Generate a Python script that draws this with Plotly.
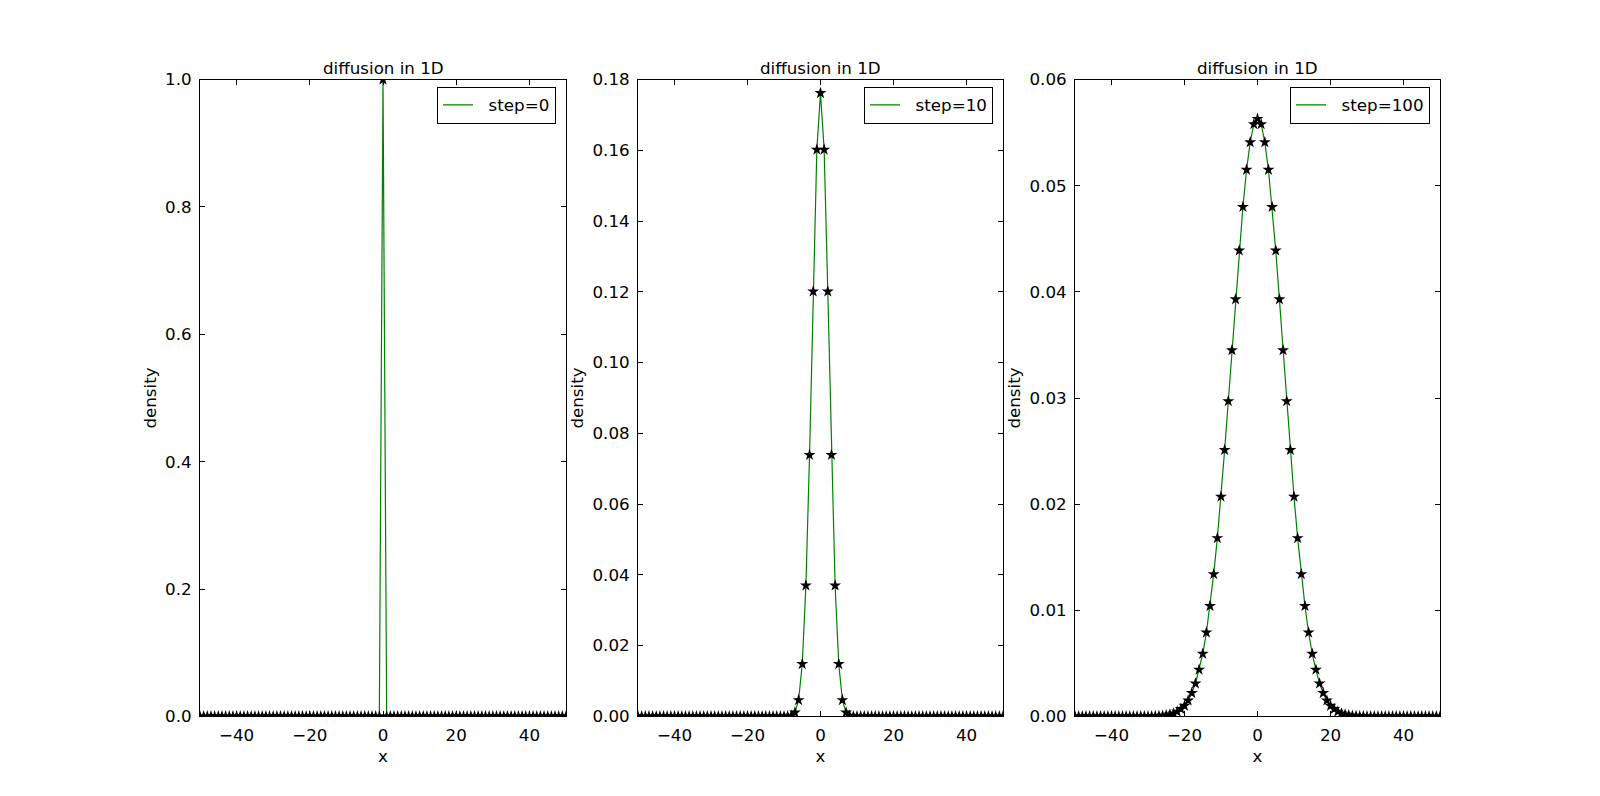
import plotly.graph_objects as go

# ---------------- data ----------------
x_positions = list(range(-50, 51))

density_step0 = [0.0] * 50 + [1.0] + [0.0] * 50

density_step10 = ([0.0] * 40 +
                  [0.000001, 0.00002, 0.0002, 0.0011, 0.0046, 0.0148, 0.0370, 0.0739, 0.1201, 0.1602,
                   0.1762,
                   0.1602, 0.1201, 0.0739, 0.0370, 0.0148, 0.0046, 0.0011, 0.0002, 0.00002, 0.000001] +
                  [0.0] * 40)

density_step100 = ([0.0] * 20 +
                   [0.000005, 0.00001, 0.00002, 0.00004, 0.00006, 0.00011, 0.00018, 0.00028, 0.00045, 0.0007,
                    0.0010, 0.0015, 0.0022, 0.0031, 0.0044, 0.0059, 0.0079, 0.0104, 0.0134, 0.0168,
                    0.0207, 0.0251, 0.0297, 0.0345, 0.0393, 0.0439, 0.0480, 0.0515, 0.0541, 0.0558,
                    0.0563,
                    0.0558, 0.0541, 0.0515, 0.0480, 0.0439, 0.0393, 0.0345, 0.0297, 0.0251, 0.0207,
                    0.0168, 0.0134, 0.0104, 0.0079, 0.0059, 0.0044, 0.0031, 0.0022, 0.0015, 0.0010,
                    0.0007, 0.00045, 0.00028, 0.00018, 0.00011, 0.00006, 0.00004, 0.00002, 0.00001, 0.000005] +
                   [0.0] * 20)

series = [
    ("step=0", density_step0, [0, 1.0], [0.0, 0.2, 0.4, 0.6, 0.8, 1.0], ".1f"),
    ("step=10", density_step10, [0, 0.18], [0.0, 0.02, 0.04, 0.06, 0.08, 0.10, 0.12, 0.14, 0.16, 0.18], ".2f"),
    ("step=100", density_step100, [0, 0.06], [0.0, 0.01, 0.02, 0.03, 0.04, 0.05, 0.06], ".2f"),
]
x_ticks = [-40, -20, 0, 20, 40]
title_text = "diffusion in 1D"

# ---------------- layout ----------------
W, H = 1600, 796
OFF = 8  # page body offset
FONT = "DejaVu Sans"
FS = 16.7
px_boxes = [(200, 566), (638, 1003), (1075, 1440)]
px_top, px_bottom = 79.6, 716.4
domains = [((l - OFF) / W, (r - OFF) / W) for l, r in px_boxes]
ydom = (1 - (px_bottom - OFF) / H, 1 - (px_top - OFF) / H)

fig = go.Figure()
layout = dict(
    width=W, height=H,
    margin=dict(l=0, r=0, t=0, b=0, pad=0),
    paper_bgcolor="white", plot_bgcolor="white",
    font=dict(family=FONT, size=FS, color="black"),
    showlegend=True,
    annotations=[],
)

for i, (label, dens, yr, yticks, fmt) in enumerate(series):
    n = "" if i == 0 else str(i + 1)
    xa, ya = "x" + n, "y" + n
    leg = "legend" + n
    fig.add_trace(go.Scatter(
        x=x_positions, y=dens, mode="lines", name="\u00a0\u00a0" + label,
        line=dict(color="#008000", width=1.2),
        xaxis=xa, yaxis=ya, legend=leg, showlegend=True,
    ))
    fig.add_trace(go.Scatter(
        x=x_positions, y=dens, mode="markers", name=label,
        marker=dict(symbol="star", size=9, color="black", line=dict(width=0)),
        xaxis=xa, yaxis=ya, legend=leg, showlegend=False,
    ))
    axis_common = dict(
        showline=True, linecolor="black", linewidth=1, mirror="ticks",
        ticks="inside", ticklen=5, tickcolor="black", tickwidth=1,
        showgrid=False, zeroline=False, automargin=False,
        tickfont=dict(family=FONT, size=FS, color="black"),
    )
    layout["xaxis" + n] = dict(
        domain=list(domains[i]), range=[-50, 50], tickvals=x_ticks,
        ticktext=["\u221240", "\u221220", "0", "20", "40"],
        anchor=ya,
        title=dict(text="x", font=dict(family=FONT, size=FS), standoff=5),
        ticklabelstandoff=4,
        **axis_common,
    )
    layout["yaxis" + n] = dict(
        domain=list(ydom), range=yr, tickvals=yticks, tickformat=fmt,
        anchor=xa,
        title=dict(text="density", font=dict(family=FONT, size=FS), standoff=4),
        ticklabelstandoff=4,
        **axis_common,
    )
    layout[leg] = dict(
        x=domains[i][1] - 10 / W, y=ydom[1] - 7 / H,
        xanchor="right", yanchor="top",
        bgcolor="white", bordercolor="black", borderwidth=1,
        font=dict(family=FONT, size=FS, color="black"),
        itemwidth=30,
    )
    layout["annotations"].append(dict(
        text=title_text, x=(domains[i][0] + domains[i][1]) / 2, y=ydom[1] + 0 / H,
        xref="paper", yref="paper", xanchor="center", yanchor="bottom",
        showarrow=False, font=dict(family=FONT, size=FS, color="black"),
    ))

fig.update_layout(**layout)
fig.write_html("out.html")
